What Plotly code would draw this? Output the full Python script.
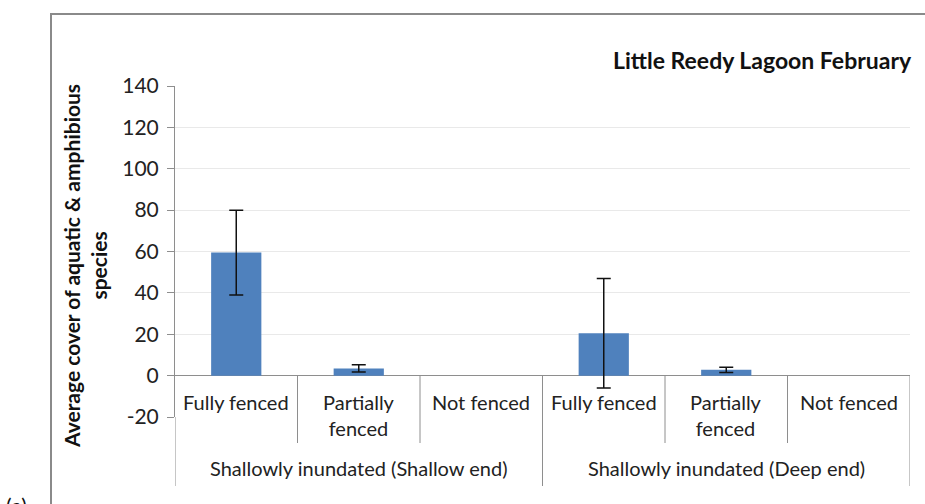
import plotly.graph_objects as go

# Data
categories = ["Fully fenced", "Partially<br>fenced", "Not fenced",
              "Fully fenced", "Partially<br>fenced", "Not fenced"]
groups = ["Shallowly inundated (Shallow end)", "Shallowly inundated (Deep end)"]
mean_cover = [59.5, 3.5, None, 20.5, 2.8, None]
error_half = [20.5, 1.7, 0, 26.5, 1.3, 0]
y_ticks = [-20, 0, 20, 40, 60, 80, 100, 120, 140]

W, H = 925, 504
L, R, T, B = 175, 15, 86, 87
PW, PH = W - L - R, H - T - B

FONT = "Lato"
AXIS_GREY = "#8e8e8e"


def px_x(p):
    return (p - L) / PW


def px_y(p):
    return (H - B - p) / PH


xs = list(range(len(categories)))

fig = go.Figure()
fig.add_trace(go.Bar(
    x=xs, y=mean_cover, width=0.41,
    marker=dict(color="#4f81bd", line=dict(width=0)),
    error_y=dict(type="data", array=error_half, visible=True,
                 color="#111111", thickness=1.5, width=7),
    showlegend=False,
))

shapes = []
# outer chart frame
shapes.append(dict(type="rect", xref="paper", yref="paper",
                   x0=px_x(51), x1=px_x(935), y0=px_y(515), y1=px_y(14),
                   line=dict(color="#8a8a8a", width=2), fillcolor="rgba(0,0,0,0)"))
# category separators below the axis
y_axis0 = px_y(376)
for xv in [0.5, 1.5, 3.5, 4.5]:
    shapes.append(dict(type="line", xref="x", yref="paper", x0=xv, x1=xv,
                       y0=y_axis0, y1=px_y(443), line=dict(color=AXIS_GREY, width=1)))
for xv in [2.5, 5.5]:
    shapes.append(dict(type="line", xref="x", yref="paper", x0=xv, x1=xv,
                       y0=y_axis0, y1=px_y(486), line=dict(color=AXIS_GREY, width=1)))
shapes.append(dict(type="line", xref="x", yref="paper", x0=-0.5, x1=-0.5,
                   y0=0, y1=px_y(486), line=dict(color=AXIS_GREY, width=1)))

annotations = []
for i, lab in enumerate(categories):
    annotations.append(dict(x=i, xref="x", y=px_y(402) if "<br>" not in lab else px_y(415),
                            yref="paper", text=lab, showarrow=False,
                            xanchor="center", yanchor="middle",
                            font=dict(family=FONT, size=20, color="#222222")))
for g, lab in enumerate(groups):
    annotations.append(dict(x=1 + 3 * g, xref="x", y=px_y(468), yref="paper",
                            text=lab, showarrow=False, xanchor="center", yanchor="middle",
                            font=dict(family=FONT, size=20, color="#222222")))
annotations.append(dict(x=px_x(914), xref="paper", y=px_y(60), yref="paper",
                        text="<b>Little Reedy Lagoon February</b>", showarrow=False,
                        xanchor="right", yanchor="middle",
                        font=dict(family=FONT, size=23, color="#111111")))
annotations.append(dict(x=px_x(85), xref="paper", y=px_y(266), yref="paper",
                        text="<b>Average cover of aquatic & amphibious<br>species</b>",
                        textangle=-90, showarrow=False, xanchor="center", yanchor="middle",
                        font=dict(family=FONT, size=21, color="#111111")))
annotations.append(dict(x=px_x(4), xref="paper", y=px_y(491), yref="paper",
                        text="(a)", showarrow=False, xanchor="left", yanchor="top",
                        font=dict(family=FONT, size=21, color="#111111")))

fig.update_layout(
    width=W, height=H,
    margin=dict(l=L, r=R, t=T, b=B, pad=0),
    paper_bgcolor="white", plot_bgcolor="white",
    shapes=shapes, annotations=annotations,
    xaxis=dict(range=[-0.5, 5.5], showticklabels=False, showgrid=False,
               zeroline=False, showline=False, fixedrange=True),
    yaxis=dict(range=[-20, 140], tickvals=y_ticks, ticktext=[str(v) for v in y_ticks],
               showgrid=True, gridcolor="#e9e9e9", gridwidth=1,
               zeroline=True, zerolinecolor=AXIS_GREY, zerolinewidth=1,
               showline=True, linecolor=AXIS_GREY, linewidth=1,
               ticks="outside", ticklen=7, tickcolor=AXIS_GREY,
               ticklabelstandoff=4,
               tickfont=dict(family=FONT, size=21, color="#222222"),
               fixedrange=True),
)

fig.write_html("out.html")
